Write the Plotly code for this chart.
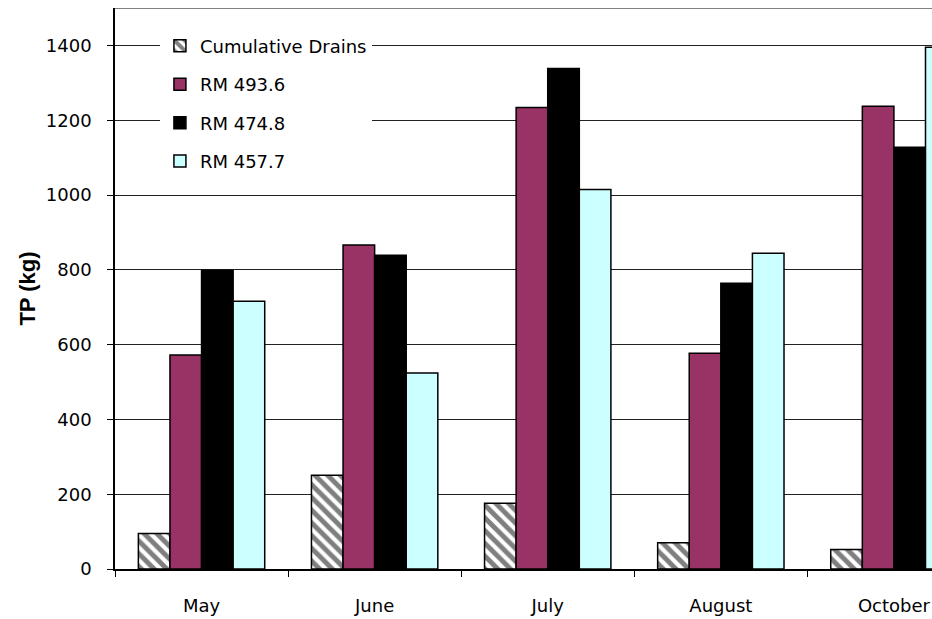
import plotly.graph_objects as go

months = ["May", "June", "July", "August", "October"]
drains = [95, 251, 176, 70, 52]
rm_493_6 = [572, 866, 1234, 577, 1237]
rm_474_8 = [799, 839, 1338, 764, 1128]
rm_457_7 = [716, 524, 1015, 844, 1395]
y_ticks = [0, 200, 400, 600, 800, 1000, 1200, 1400]

font_family = "DejaVu Sans, Verdana, sans-serif"

fig = go.Figure()
fig.add_trace(go.Bar(
    x=months, y=drains, name="Cumulative Drains", legendgroup="a",
    marker=dict(color="white", line=dict(color="black", width=1.5),
                pattern=dict(shape="\\", fgcolor="black", bgcolor="white",
                             size=9, solidity=0.55)),
))
fig.add_trace(go.Bar(
    x=months, y=rm_493_6, name="RM 493.6", legendgroup="b",
    marker=dict(color="#993366", line=dict(color="black", width=1.5)),
))
fig.add_trace(go.Bar(
    x=months, y=rm_474_8, name="RM 474.8", legendgroup="c",
    marker=dict(color="black", line=dict(color="black", width=1.5)),
))
fig.add_trace(go.Bar(
    x=months, y=rm_457_7, name="RM 457.7", legendgroup="d",
    marker=dict(color="#CCFFFF", line=dict(color="black", width=1.5)),
))

# top border of the plot area
fig.add_shape(type="line", xref="paper", yref="y", x0=0, x1=1, y0=1500, y1=1500,
              line=dict(color="#808080", width=2))

fig.update_layout(
    width=932, height=619,
    margin=dict(l=115, r=0, t=8, b=50),
    paper_bgcolor="white", plot_bgcolor="white",
    barmode="group", bargap=0.27, bargroupgap=0,
    font=dict(family=font_family, size=18, color="black"),
    showlegend=True,
    legend=dict(
        x=0.055, y=0.965, xanchor="left", yanchor="top",
        bgcolor="white", borderwidth=0,
        font=dict(size=18, family=font_family, color="black"),
        tracegroupgap=12, traceorder="grouped",
        itemwidth=30,
    ),
    xaxis=dict(
        range=[-0.5, 4.22], showgrid=False,
        showline=True, linecolor="black", linewidth=1.5,
        ticks="outside", tickson="boundaries", ticklen=6, tickcolor="black",
        tickfont=dict(size=18), ticklabelstandoff=20,
    ),
    yaxis=dict(
        range=[0, 1500], tickvals=y_ticks,
        showgrid=True, gridcolor="#222222", gridwidth=1,
        showline=True, linecolor="black", linewidth=1.5,
        ticks="outside", ticklen=6, tickcolor="black",
        tickfont=dict(size=18), zeroline=False, ticklabelstandoff=12,
        title=dict(text="<b>TP (kg)</b>",
                   font=dict(size=22, family="Liberation Sans, Arial, sans-serif"),
                   standoff=4),
    ),
)

fig.write_html("out.html")
